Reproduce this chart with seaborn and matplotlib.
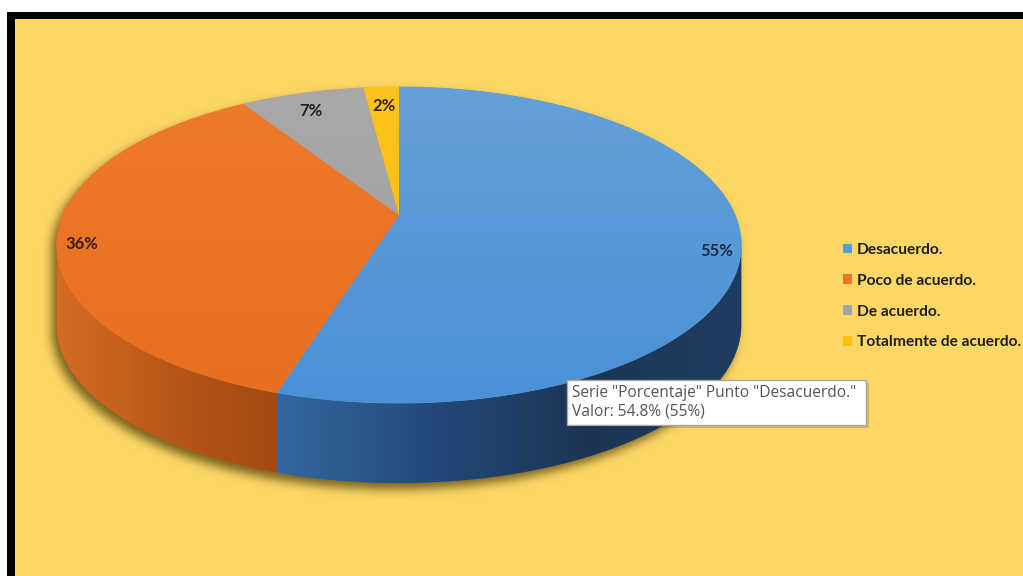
import numpy as np
import matplotlib
matplotlib.use("Agg")
import matplotlib.pyplot as plt
from matplotlib.patches import Polygon, Rectangle, Patch
from matplotlib.colors import LinearSegmentedColormap
import seaborn as sns

# ---- data -------------------------------------------------------------
categories = ["Desacuerdo.", "Poco de acuerdo.", "De acuerdo.", "Totalmente de acuerdo."]
porcentaje = [54.8, 36.2, 7.0, 2.0]
series_name = "Porcentaje"

# ---- style ------------------------------------------------------------
sns.set_theme(style="white")
plt.rcParams['font.family'] = ['Lato', 'DejaVu Sans']

top_palette = sns.color_palette(["#5b9bd5", "#ed7626", "#a5a5a5", "#fdc010"])
top_grad = [("#65a0d8", "#4a91d6"), ("#ee7a2b", "#e86f20"),
            ("#a9a9a7", "#9c9c9c"), ("#fec51c", "#f6b900")]
side_grad = [("#3467a0", "#24497a", "#1c3554", "#1f3d62"),
             ("#d66c22", "#b9571a", "#a04a12"),
             ("#8a8a8a", "#5a5a5a"), ("#d9a300", "#9c7400")]
label_colors = ["#1d2b45", "#3b1c0c", "#222222", "#3a2008"]
label_radius = [0.93, 0.93, 0.90, 0.85]
label_dy = [14, 10, 7, 2]
bg_yellow = "#fcd766"

W, H = 1023, 576
# pie in perspective: projected centre, half-width, depth scale, tilt, wall height
PCX, PCY, A, B, P, DEPTH = 399, 215, 336, 152.3, 0.19, 80
# silhouette of the projected rim (used for the shadow)
CX, CY, RX, RY = 399, 245, 342, 158

fig = plt.figure(figsize=(W / 100, H / 100), dpi=100, facecolor="white")
ax = fig.add_axes([0, 0, 1, 1])
ax.set_xlim(0, W)
ax.set_ylim(H, 0)
ax.axis("off")

# frame and chart area
ax.add_patch(Rectangle((7, 12), W, H, facecolor="black", edgecolor="none", zorder=0))
ax.add_patch(Rectangle((15, 19), W, H, facecolor=bg_yellow, edgecolor="none", zorder=0.5))

renderer = fig.canvas.get_renderer()


def fit_size(text, target_px, **kw):
    t = ax.text(0, 0, text, fontsize=10, **kw)
    w = t.get_window_extent(renderer).width
    t.remove()
    return 10 * target_px / w


def proj(th_deg, r=1.0, dy=0.0):
    """Project a point of the pie disc (angle, radius) to screen pixels."""
    th = np.radians(th_deg)
    X, Z = r * np.cos(th), r * np.sin(th)
    w = 1 + P * Z
    return PCX + A * X / w, PCY - B * Z / w + dy


# ---- drop shadow under the pie ------------------------------------------
ys, xs = np.mgrid[0:H, 0:W] + 0.5
u = (xs + 5 - CX) / RX
vt = (ys - 6 - CY) / RY
vb = (ys - 6 - CY - DEPTH) / RY
mask = ((u ** 2 + vt ** 2 <= 1) | (u ** 2 + vb ** 2 <= 1) |
        ((np.abs(u) <= 1) & (ys - 6 >= CY) & (ys - 6 <= CY + DEPTH))).astype(float)
k = np.exp(-0.5 * (np.arange(-15, 16) / 5.0) ** 2)
k /= k.sum()
mask = np.apply_along_axis(lambda r: np.convolve(r, k, mode="same"), 1, mask)
mask = np.apply_along_axis(lambda c: np.convolve(c, k, mode="same"), 0, mask)
shadow = np.zeros((H, W, 4))
shadow[..., :3] = (0.33, 0.26, 0.04)
shadow[..., 3] = mask * 0.8
ax.imshow(shadow, extent=(0, W, H, 0), zorder=2, interpolation="bilinear")

# ---- slice angles (clockwise from 12 o'clock) ----------------------------
total = sum(porcentaje)
angles = []
start = 90.0
for v in porcentaje:
    span = 360.0 * v / total
    angles.append((start - span, start))
    start -= span

# visible part of the outer wall lies between the silhouette's side points
edge = np.degrees(np.arcsin(P))
vis_lo, vis_hi = 180 + edge, 360 - edge

# ---- side walls -------------------------------------------------------
for i, (t1, t2) in enumerate(angles):
    for kk in (-1, 0, 1):
        lo, hi = max(t1, vis_lo + 360 * kk), min(t2, vis_hi + 360 * kk)
        if hi <= lo:
            continue
        th = np.linspace(lo, hi, 300)
        x1, y1 = proj(th)
        x2, y2 = proj(th[::-1], dy=DEPTH)
        pts = np.column_stack([np.r_[x1, x2], np.r_[y1, y2]])
        poly = Polygon(pts, closed=True, facecolor=side_grad[i][0], edgecolor="none", zorder=3)
        ax.add_patch(poly)
        cmap = LinearSegmentedColormap.from_list(f"side{i}", side_grad[i])
        grad = np.linspace(0, 1, 256)[None, :]
        im = ax.imshow(grad, cmap=cmap, aspect="auto", zorder=3.1,
                       extent=(pts[:, 0].min(), pts[:, 0].max(), pts[:, 1].max(), pts[:, 1].min()))
        im.set_clip_path(poly)

# ---- top faces --------------------------------------------------------
for i, (t1, t2) in enumerate(angles):
    th = np.linspace(t1, t2, 300)
    rx, ry = proj(th)
    pts = np.column_stack([np.r_[PCX, rx], np.r_[PCY, ry]])
    poly = Polygon(pts, closed=True, facecolor=top_palette[i], edgecolor=top_palette[i],
                   linewidth=0.6, zorder=4)
    ax.add_patch(poly)
    cmap = LinearSegmentedColormap.from_list(f"top{i}", top_grad[i])
    grad = np.linspace(0, 1, 256)[:, None]
    im = ax.imshow(grad, cmap=cmap, aspect="auto", zorder=4.1,
                   extent=(CX - RX, CX + RX, CY + RY, CY - RY))
    im.set_clip_path(poly)

# ---- percentage labels ------------------------------------------------
for i, ((t1, t2), v) in enumerate(zip(angles, porcentaje)):
    lx, ly = proj((t1 + t2) / 2, r=label_radius[i], dy=label_dy[i])
    ax.text(lx, ly, f"{round(v):.0f}%", fontsize=12, fontweight="bold",
            color=label_colors[i], ha="center", va="center", zorder=6)

# ---- legend -----------------------------------------------------------
leg_size = fit_size(categories[-1], 165, fontweight="bold")
handles = [Patch(facecolor=top_palette[i], edgecolor="none") for i in range(len(categories))]
leg = ax.legend(handles, categories, loc="upper left", bbox_to_anchor=(843 / W, 1 - 243 / H),
                frameon=False, handlelength=0.6, handleheight=0.6, handletextpad=0.3,
                labelspacing=1.08, borderpad=0, borderaxespad=0,
                prop={"weight": "bold", "size": leg_size})
for t in leg.get_texts():
    t.set_color("#1f1f1f")

# ---- hover tooltip ----------------------------------------------------
tip1 = f'Serie "{series_name}" Punto "{categories[0]}"'
tip2 = f"Valor: {porcentaje[0]:.1f}% ({round(porcentaje[0]):.0f}%)"
tip_font = ["Open Sans", "DejaVu Sans"]
tip_size = fit_size(tip1, 285, family=tip_font)
ax.add_patch(Rectangle((570, 383), 299, 45, facecolor="black", alpha=0.15,
                       edgecolor="none", zorder=7))
ax.add_patch(Rectangle((567, 380), 299, 45, facecolor="white", edgecolor="#a8a8a8",
                       linewidth=1, zorder=8))
ax.text(572, 393, tip1, family=tip_font, fontsize=tip_size, color="#555555",
        va="center", ha="left", zorder=9)
ax.text(572, 412, tip2, family=tip_font, fontsize=tip_size, color="#555555",
        va="center", ha="left", zorder=9)

fig.savefig("out.png", dpi=100, facecolor="white")
